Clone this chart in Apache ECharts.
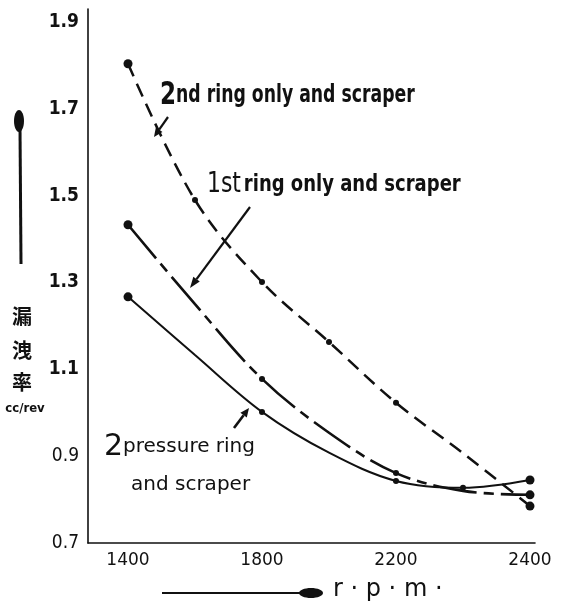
<!DOCTYPE html>
<html><head><meta charset="utf-8">
<script src="https://cdn.jsdelivr.net/npm/echarts@6/dist/echarts.min.js"></script>
<style>html,body{margin:0;padding:0;background:#fff}#c{width:562px;height:607px}</style>
</head><body><div id="c"></div>
<script>
// ---- data ----
const categories = ['1400', '1600', '1800', '2000', '2200', '2300', '2400'];
const xTickLabels = ['1400', '1800', '2200', '2400'];
const yMin = 0.7, yMax = 1.9, yStep = 0.2;
const ring2nd   = [1.804, 1.49, 1.301, 1.163, 1.023, 0.907, 0.785];
const ring1st   = [1.433, 1.250, 1.078, 0.954, 0.861, 0.820, 0.811];
const pressure2 = [1.267, 1.133, 1.002, 0.908, 0.843, 0.827, 0.845];
const dots2nd = [0, 1, 2, 3, 4, 6];
const dots1st = [0, 2, 4, 6];
const dotsP2  = [0, 2, 4, 5, 6];
const seriesNames = ['2nd ring only and scraper', '1st ring only and scraper', '2pressure ring and scraper'];

const NARROW = "'Liberation Sans Narrow','DejaVu Sans Condensed','Liberation Sans',sans-serif";
const DJ = "'DejaVu Sans',sans-serif";
const INK = '#111';

function dotSize(list, big) {
  return function (v, p) { return list.indexOf(p.dataIndex) < 0 ? 0 : (p.dataIndex === 0 || p.dataIndex === 6 ? big : 6); };
}

function arrow(x1, y1, x2, y2, w, hl, hw) {
  const ang = Math.atan2(y2 - y1, x2 - x1);
  const bx = x2 - hl * Math.cos(ang), by = y2 - hl * Math.sin(ang);
  const nx = -Math.sin(ang) * hw, ny = Math.cos(ang) * hw;
  return [
    { type: 'line', shape: { x1: x1, y1: y1, x2: bx, y2: by }, style: { stroke: INK, lineWidth: w } },
    { type: 'polygon', shape: { points: [[x2, y2], [bx + nx, by + ny], [bx - nx, by - ny]] }, style: { fill: INK } }
  ];
}

const chart = echarts.init(document.getElementById('c'));
const graphics = [].concat(
  [{ type: 'line', shape: { x1: 21, y1: 264, x2: 20, y2: 128 }, style: { stroke: INK, lineWidth: 3 } },
   { type: 'ellipse', shape: { cx: 19, cy: 121, rx: 5, ry: 11 }, style: { fill: INK } }],
  [{ type: 'line', shape: { x1: 162, y1: 593, x2: 302, y2: 593 }, style: { stroke: INK, lineWidth: 2.2 } },
   { type: 'ellipse', shape: { cx: 311, cy: 593, rx: 12, ry: 5 }, style: { fill: INK } }],
  arrow(168, 117, 154, 137, 2.2, 9, 4),
  arrow(250, 207, 190, 288, 2.2, 11, 4),
  arrow(234, 428, 249, 408, 2.6, 9, 4)
);
graphics.push(
  { type: 'text', x: 22, y: 316, style: { text: '漏', font: "bold 20px 'Noto Sans CJK JP'", fill: INK, align: 'center', verticalAlign: 'middle' } },
  { type: 'text', x: 22, y: 350, style: { text: '洩', font: "bold 20px 'Noto Sans CJK JP'", fill: INK, align: 'center', verticalAlign: 'middle' } },
  { type: 'text', x: 22, y: 382, style: { text: '率', font: "bold 20px 'Noto Sans CJK JP'", fill: INK, align: 'center', verticalAlign: 'middle' } },
  { type: 'text', x: 25, y: 409, style: { text: 'cc/rev', font: "bold 13px " + NARROW, fill: INK, align: 'center', verticalAlign: 'middle' } },
  { type: 'text', x: 333, y: 590, style: { text: 'r · p · m ·', font: "24px " + DJ, fill: INK, align: 'left', verticalAlign: 'middle' } },
  { type: 'text', x: 160, y: 112, scaleX: 0.8,
    style: { text: '{a|2}{b|nd ring only and scraper}', fill: INK, align: 'left', verticalAlign: 'bottom',
      rich: { a: { font: "bold 32px " + NARROW, fill: INK }, b: { font: "bold 24px " + NARROW, fill: INK } } } },
  { type: 'text', x: 207, y: 199, scaleX: 0.87,
    style: { text: '{a|1st} {b|ring only and scraper}', fill: INK, align: 'left', verticalAlign: 'bottom',
      rich: { a: { font: "28px " + NARROW, fill: INK }, b: { font: "bold 23px " + NARROW, fill: INK } } } },
  { type: 'text', x: 104, y: 462, style: { text: '{a|2}{b|pressure ring}', fill: INK, align: 'left', verticalAlign: 'bottom',
      rich: { a: { font: "30px " + DJ, fill: INK }, b: { font: "20px " + DJ, fill: INK } } } },
  { type: 'text', x: 131, y: 495, style: { text: 'and scraper', font: "20px " + DJ, fill: INK, align: 'left', verticalAlign: 'bottom' } }
);

chart.setOption({
  animation: false,
  backgroundColor: '#fff',
  grid: [
    { left: 88, right: 27, top: 9, bottom: 64 },
    { left: 128, right: 32, top: 9, bottom: 64 }
  ],
  xAxis: [
    { gridIndex: 0, type: 'value', min: 0, max: 1, axisLine: { lineStyle: { color: INK, width: 1.6 } },
      axisTick: { show: false }, axisLabel: { show: false }, splitLine: { show: false } },
    { gridIndex: 1, type: 'category', data: categories, boundaryGap: false,
      axisLine: { show: false }, axisTick: { show: false }, splitLine: { show: false },
      axisLabel: { interval: function (i, v) { return xTickLabels.indexOf(v) >= 0; }, margin: 9,
        fontFamily: DJ, fontSize: 17, color: INK } }
  ],
  yAxis: [
    { gridIndex: 0, type: 'value', min: yMin, max: 1.93, interval: yStep,
      axisLine: { show: true, lineStyle: { color: INK, width: 1.6 } }, axisTick: { show: false }, splitLine: { show: false },
      axisLabel: { showMaxLabel: false, margin: 9, align: 'right',
        formatter: function (v) { return v >= 1 ? '{b|' + v.toFixed(1) + '}' : '{n|' + v.toFixed(1) + '}'; },
        rich: { b: { fontFamily: NARROW, fontWeight: 'bold', fontSize: 19, color: INK },
                n: { fontFamily: NARROW, fontSize: 19, color: INK } } } },
    { gridIndex: 1, type: 'value', min: yMin, max: 1.93, show: false, splitLine: { show: false } }
  ],
  series: [
    { name: seriesNames[0], type: 'line', xAxisIndex: 1, yAxisIndex: 1, data: ring2nd, smooth: 0.35,
      symbol: 'circle', symbolSize: dotSize(dots2nd, 9), itemStyle: { color: INK },
      lineStyle: { color: INK, width: 2.5, type: [14, 8] } },
    { name: seriesNames[1], type: 'line', xAxisIndex: 1, yAxisIndex: 1, data: ring1st, smooth: 0.35,
      symbol: 'circle', symbolSize: dotSize(dots1st, 9), itemStyle: { color: INK },
      lineStyle: { color: INK, width: 2.6, type: [44, 7, 10, 7] } },
    { name: seriesNames[2], type: 'line', xAxisIndex: 1, yAxisIndex: 1, data: pressure2, smooth: 0.35,
      symbol: 'circle', symbolSize: dotSize(dotsP2, 9), itemStyle: { color: INK },
      lineStyle: { color: INK, width: 2 } }
  ],
  graphic: graphics
});
</script></body></html>
